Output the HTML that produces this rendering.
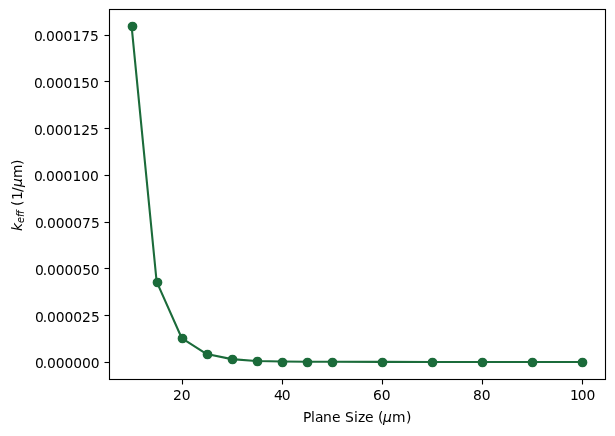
<!DOCTYPE html>
<html lang="en">
<head>
<meta charset="utf-8">
<title>k_eff vs Plane Size</title>
<style>
html,body{margin:0;padding:0;background:#ffffff;}
body{width:615px;height:436px;overflow:hidden;}
svg{display:block;}
svg text{font-family:'DejaVu Sans','Liberation Sans',sans-serif;font-size:13.889px;fill:#000000;}
.it{font-style:oblique;}
</style>
</head>
<body>
<svg width="615" height="436" viewBox="0 0 615 436">
<rect x="0" y="0" width="615" height="436" fill="#ffffff"/>
<g stroke="#000000" stroke-width="1.111" fill="none">
<line x1="182.5" y1="379.5" x2="182.5" y2="384.5"/>
<line x1="282.5" y1="379.5" x2="282.5" y2="384.5"/>
<line x1="382.5" y1="379.5" x2="382.5" y2="384.5"/>
<line x1="482.5" y1="379.5" x2="482.5" y2="384.5"/>
<line x1="582.5" y1="379.5" x2="582.5" y2="384.5"/>
<line x1="109.5" y1="35.5" x2="104.5" y2="35.5"/>
<line x1="109.5" y1="81.5" x2="104.5" y2="81.5"/>
<line x1="109.5" y1="128.5" x2="104.5" y2="128.5"/>
<line x1="109.5" y1="175.5" x2="104.5" y2="175.5"/>
<line x1="109.5" y1="222.5" x2="104.5" y2="222.5"/>
<line x1="109.5" y1="268.5" x2="104.5" y2="268.5"/>
<line x1="109.5" y1="315.5" x2="104.5" y2="315.5"/>
<line x1="109.5" y1="362.5" x2="104.5" y2="362.5"/>
</g>
<polyline points="131.573,25.922 156.624,281.655 181.674,338.029 206.725,354.082 231.775,359.122 256.826,360.989 281.876,361.549 306.927,361.735 331.977,361.829 382.078,361.903 432.179,361.922 482.28,361.922 532.381,361.922 582.482,361.922" fill="none" stroke="#1b6b3a" stroke-width="2.083" stroke-linejoin="round" stroke-linecap="square"/>
<g fill="#1b6b3a" stroke="#1b6b3a" stroke-width="1.389">
<circle cx="132.5" cy="26.5" r="4.167"/>
<circle cx="157.5" cy="282.5" r="4.167"/>
<circle cx="182.5" cy="338.5" r="4.167"/>
<circle cx="207.5" cy="354.5" r="4.167"/>
<circle cx="232.5" cy="359.5" r="4.167"/>
<circle cx="257.5" cy="361.5" r="4.167"/>
<circle cx="282.5" cy="362.5" r="4.167"/>
<circle cx="307.5" cy="362.5" r="4.167"/>
<circle cx="332.5" cy="362.5" r="4.167"/>
<circle cx="382.5" cy="362.5" r="4.167"/>
<circle cx="432.5" cy="362.5" r="4.167"/>
<circle cx="482.5" cy="362.5" r="4.167"/>
<circle cx="532.5" cy="362.5" r="4.167"/>
<circle cx="582.5" cy="362.5" r="4.167"/>
</g>
<rect x="109.5" y="9.5" width="496" height="370" fill="none" stroke="#000000" stroke-width="1.111" stroke-linejoin="miter"/>
<text id="xt0" x="172.92 181.654" y="399.5 399.5">20</text>
<text id="xt1" x="273.88 281.833" y="399.5 399.5">40</text>
<text id="xt2" x="372.895 381.629" y="399.5 399.5">60</text>
<text id="xt3" x="472.97 481.673" y="399.5 399.5">80</text>
<text id="xt4" x="569.915 577.868 586.571" y="399.5 399.5 399.5">100</text>
<text id="yt0" x="33.875 41.828 46.109 54.828 63.531 72.484 81.203 89.906" y="40.5 40.5 40.5 40.5 40.5 40.5 40.5 40.5">0.000175</text>
<text id="yt1" x="33.875 41.828 46.109 54.828 63.531 72.484 81.203 89.906" y="87.5 87.5 87.5 87.5 87.5 87.5 87.5 87.5">0.000150</text>
<text id="yt2" x="33.875 41.828 46.109 54.828 63.531 72.484 81.203 89.906" y="134.5 134.5 134.5 134.5 134.5 134.5 134.5 134.5">0.000125</text>
<text id="yt3" x="33.875 41.828 46.109 54.828 63.531 72.484 81.203 89.906" y="180.5 180.5 180.5 180.5 180.5 180.5 180.5 180.5">0.000100</text>
<text id="yt4" x="34.875 42.828 47.109 55.828 64.531 73.234 81.953 90.906" y="227.5 227.5 227.5 227.5 227.5 227.5 227.5 227.5">0.000075</text>
<text id="yt5" x="34.875 42.828 47.109 55.828 64.531 73.234 82.203 90.656" y="274.5 274.5 274.5 274.5 274.5 274.5 274.5 274.5">0.000050</text>
<text id="yt6" x="34.875 42.828 47.109 55.828 64.531 73.234 81.953 90.906" y="321.5 321.5 321.5 321.5 321.5 321.5 321.5 321.5">0.000025</text>
<text id="yt7" x="34.875 42.828 47.109 55.828 64.531 73.234 81.953 90.656" y="367.5 367.5 367.5 367.5 367.5 367.5 367.5 367.5">0.000000</text>
<text id="xlabel" x="302.9 311.009 315.119 323.119 331.916 340.447 345.103 353.916 358.025 365.056 373.337 377.994 382.931 392.009 406.025" y="421.5 421.5 421.5 421.5 421.5 421.5 421.5 421.5 421.5 421.5 421.5 421.5 421.5 421.5 421.5">Plane Size (<tspan class="it">μ</tspan>m)</text>
<text id="ylabel" transform="translate(22,231.3) rotate(-90)" x="0.25 8.297 14.281 17.203 20.875 25.297 31.219 39.297 44.234 53.312 66.344" y="0 2.1 2.1 2.1 0 0 0 0 0 0 0"><tspan class="it">k</tspan><tspan class="it" font-size="9.722">eff</tspan> (1/<tspan class="it">μ</tspan>m)</text>
</svg>
</body>
</html>
